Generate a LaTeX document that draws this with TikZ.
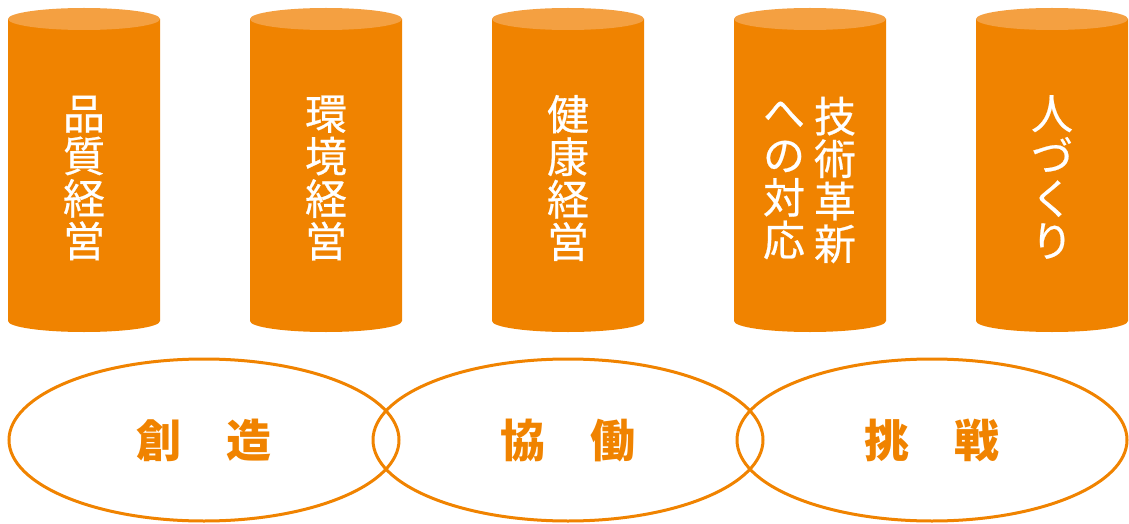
\documentclass[tikz,border=0pt]{standalone}
\usepackage{fontspec}
\setmainfont{Noto Sans CJK JP}
\newfontfamily\pillarfont[FakeBold=0.5]{Noto Sans CJK JP}
\usetikzlibrary{shapes.geometric}
\definecolor{kaki}{HTML}{F08300}
\definecolor{kakilight}{HTML}{F4A041}
\tikzset{
  pillar/.style={fill=kaki},
  pillartop/.style={fill=kakilight},
  pillartext/.style={text=white, align=center, inner sep=0pt, font=\pillarfont\fontsize{42}{42.5}\selectfont},
  valuering/.style={ellipse, draw=kaki, line width=3pt, minimum width=390pt, minimum height=162pt,
    text=kaki, font=\fontsize{45}{45}\selectfont\bfseries}
}
\begin{document}
\begin{tikzpicture}[x=1pt, y=1pt]
    \useasboundingbox (0,0) rectangle (1129,523);
    % the five pillars
    \foreach \x in {84,326,568,810,1052}{
        \fill [pillar] (\x-76,504) -- (\x-76,202) arc (180:360:76 and 11) -- (\x+76,504) -- cycle;
        \fill [pillartop] (\x,504) ellipse (76 and 11);
    }
    \node [pillartext] (hinshitsu) at (84,345) {品\\質\\経\\営};
    \node [pillartext] (kankyo) at (326,345) {環\\境\\経\\営};
    \node [pillartext] (kenko) at (568,345) {健\\康\\経\\営};
    \node [pillartext] (gijutsu) at (835,343) {技\\術\\革\\新};
    \node [pillartext] (taio) at (784,343) {へ\\の\\対\\応};
    \node [pillartext] (hitozukuri) at (1052,346) {人\\づ\\く\\り};
    % the three rings
    \node [valuering] (souzou) at (204,83) {創　造};
    \node [valuering] (kyoudou) at (568,83) {協　働};
    \node [valuering] (chousen) at (932,83) {挑　戦};
\end{tikzpicture}
\end{document}
